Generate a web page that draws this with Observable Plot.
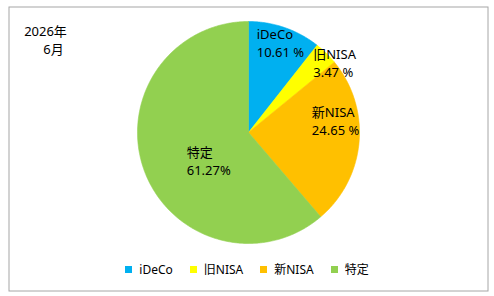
<!DOCTYPE html>
<html><head><meta charset="utf-8">
<script src="https://cdn.jsdelivr.net/npm/d3@7"></script>
<script src="https://cdn.jsdelivr.net/npm/@observablehq/plot@0.6"></script>
<style>
body{margin:0;background:#fff;}
#wrap{position:relative;width:494px;height:296px;font-family:"Noto Sans","Noto Sans CJK JP",sans-serif;}
#legend{position:absolute;left:0;top:259px;width:494px;display:flex;justify-content:center;}
.lg-swatches{font-family:"Noto Sans","Noto Sans CJK JP",sans-serif !important;font-size:12px !important;margin:0 !important;min-height:20px !important;color:#000;}
.lg-swatches-wrap .lg-swatch{margin-right:17px !important;}
.lg-swatches-wrap .lg-swatch:last-child{margin-right:0 !important;}
.lg-swatch > svg{margin-right:7px !important;}
</style>
</head><body>
<div id="wrap"><div id="chart"></div><div id="legend"></div></div>
<script>
const categories = ["iDeCo", "旧NISA", "新NISA", "特定"];
const shares = [10.61, 3.47, 24.65, 61.27];
const shareLabels = ["10.61 %", "3.47 %", "24.65 %", "61.27%"];
const colors = ["#00B0F0", "#FFFF00", "#FFC000", "#92D050"];
const titleLines = ["2026年", "6月"];

// layout
const W = 494, H = 296, CX = 248, CY = 132, R = 111;
const labelLayout = [
  {k: 0.86, dx: -23, dy: 0},
  {k: 1.0, dx: -13, dy: 9},
  {k: 0.79, dx: -24, dy: -20},
  {k: 0.44, dx: -16, dy: 11}
];

const arcs = d3.pie().sort(null).value(d => d)(shares);
const slicePts = [];
arcs.forEach((a, i) => {
  const cat = categories[i];
  slicePts.push({cat, u: 0, v: 0});
  const n = Math.max(2, Math.ceil((a.endAngle - a.startAngle) / 0.01));
  for (let k = 0; k <= n; k++) {
    const t = a.startAngle + (a.endAngle - a.startAngle) * k / n;
    slicePts.push({cat, u: Math.sin(t), v: Math.cos(t)});
  }
  slicePts.push({cat, u: 0, v: 0});
});

const labels = arcs.map((a, i) => {
  const m = (a.startAngle + a.endAngle) / 2;
  const L = labelLayout[i];
  return {
    text: categories[i] + "\n" + shareLabels[i],
    u: L.k * Math.sin(m) + L.dx / R,
    v: L.k * Math.cos(m) - L.dy / R
  };
});

const font = '"Noto Sans","Noto Sans CJK JP",sans-serif';

const chart = Plot.plot({
  width: W, height: H,
  margin: 0,
  style: {fontFamily: font, fontSize: "13px", background: "#fff", color: "#000"},
  x: {domain: [-CX / R, (W - CX) / R], range: [0, W], axis: null},
  y: {domain: [-(H - CY) / R, CY / R], range: [H, 0], axis: null},
  color: {domain: categories, range: colors},
  marks: [
    Plot.frame({stroke: "#a6a6a6", insetLeft: 8.5, insetTop: 6.5, insetRight: 6.5, insetBottom: 5.5}),
    Plot.line(slicePts, {x: "u", y: "v", z: "cat", fill: "cat", stroke: "cat", strokeWidth: 0.6, curve: "linear"}),
    Plot.text(labels, {x: "u", y: "v", text: "text", textAnchor: "start", lineHeight: 1.38, fontSize: 13, fill: "#000"}),
    Plot.text([titleLines[0]], {frameAnchor: "top-left", dx: 45, dy: 26, textAnchor: "middle", fontSize: 13, fill: "#000"}),
    Plot.text([titleLines[1]], {frameAnchor: "top-left", dx: 53, dy: 44, textAnchor: "middle", fontSize: 13, fill: "#000"})
  ]
});
document.getElementById("chart").appendChild(chart);

const legend = Plot.legend({
  color: {type: "ordinal", domain: categories, range: colors},
  legend: "swatches",
  swatchSize: 7,
  className: "lg"
});
document.getElementById("legend").appendChild(legend);
</script>
</body></html>
